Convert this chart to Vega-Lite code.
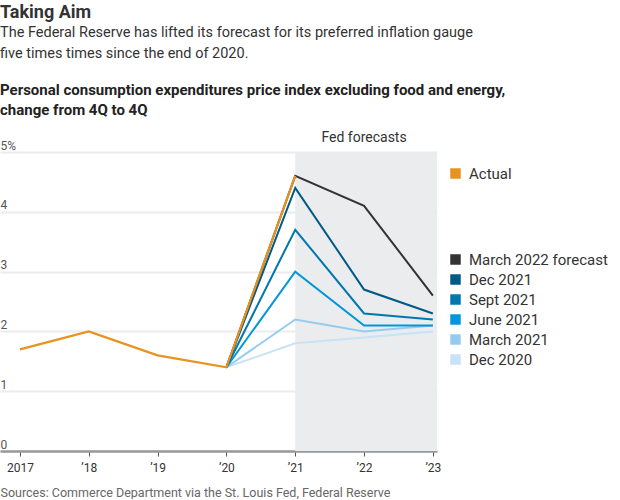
{
  "$schema": "https://vega.github.io/schema/vega-lite/v6.json",
  "padding": {"left": 0, "top": 3, "right": 0, "bottom": 0},
  "background": "white",
  "title": {
    "text": "Taking Aim",
    "subtitle": ["The Federal Reserve has lifted its forecast for its preferred inflation gauge", "five times times since the end of 2020."],
    "anchor": "start",
    "font": "Roboto",
    "fontSize": 18,
    "fontWeight": "bold",
    "color": "#333333",
    "subtitleFont": "Roboto",
    "subtitleFontSize": 14.5,
    "subtitleColor": "#333333",
    "subtitleLineHeight": 21,
    "subtitlePadding": 4,
    "offset": 23
  },
  "datasets": {
    "series": [
      {"series": "Actual", "year": 2017, "value": 1.7},
      {"series": "Actual", "year": 2018, "value": 2.0},
      {"series": "Actual", "year": 2019, "value": 1.6},
      {"series": "Actual", "year": 2020, "value": 1.4},
      {"series": "Actual", "year": 2021, "value": 4.6},
      {"series": "Dec 2020", "year": 2020, "value": 1.4},
      {"series": "Dec 2020", "year": 2021, "value": 1.8},
      {"series": "Dec 2020", "year": 2022, "value": 1.9},
      {"series": "Dec 2020", "year": 2023, "value": 2.0},
      {"series": "March 2021", "year": 2020, "value": 1.4},
      {"series": "March 2021", "year": 2021, "value": 2.2},
      {"series": "March 2021", "year": 2022, "value": 2.0},
      {"series": "March 2021", "year": 2023, "value": 2.1},
      {"series": "June 2021", "year": 2020, "value": 1.4},
      {"series": "June 2021", "year": 2021, "value": 3.0},
      {"series": "June 2021", "year": 2022, "value": 2.1},
      {"series": "June 2021", "year": 2023, "value": 2.1},
      {"series": "Sept 2021", "year": 2020, "value": 1.4},
      {"series": "Sept 2021", "year": 2021, "value": 3.7},
      {"series": "Sept 2021", "year": 2022, "value": 2.3},
      {"series": "Sept 2021", "year": 2023, "value": 2.2},
      {"series": "Dec 2021", "year": 2020, "value": 1.4},
      {"series": "Dec 2021", "year": 2021, "value": 4.4},
      {"series": "Dec 2021", "year": 2022, "value": 2.7},
      {"series": "Dec 2021", "year": 2023, "value": 2.3},
      {"series": "March 2022 forecast", "year": 2020, "value": 1.4},
      {"series": "March 2022 forecast", "year": 2021, "value": 4.6},
      {"series": "March 2022 forecast", "year": 2022, "value": 4.1},
      {"series": "March 2022 forecast", "year": 2023, "value": 2.6}
    ],
    "shade": [{"start": 2021, "end": 2023.06, "low": 0, "high": 5, "mid": 2022, "label": "Fed forecasts"}]
  },
  "vconcat": [
    {
      "title": {
        "text": ["Personal consumption expenditures price index excluding food and energy,", "change from 4Q to 4Q"],
        "anchor": "start",
        "font": "Roboto",
        "fontSize": 15,
        "fontWeight": "bold",
        "color": "#222222",
        "lineHeight": 20,
        "offset": 13
      },
      "width": 437,
      "height": 299,
      "layer": [
        {
          "data": {"name": "shade"},
          "mark": {"type": "rect", "color": "#ebecee"},
          "encoding": {
            "x": {"field": "start", "type": "quantitative", "scale": {"domain": [2016.71, 2023.06], "nice": false, "zero": false},
              "axis": {
                "values": [2017, 2018, 2019, 2020, 2021, 2022, 2023],
                "labelExpr": "datum.value == 2017 ? '2017' : '’' + substring(toString(datum.value), 2, 4)",
                "grid": false,
                "domainColor": "#999999",
                "domainWidth": 2.5,
                "tickColor": "#555555",
                "tickSize": 5,
                "tickWidth": 1,
                "labelFont": "Roboto",
                "labelFontSize": 12,
                "labelColor": "#333333",
                "labelPadding": 6,
                "title": "Sources: Commerce Department via the St. Louis Fed, Federal Reserve",
                "titleAnchor": "start",
                "titleAlign": "left",
                "titleFont": "Roboto",
                "titleFontSize": 12.5,
                "titleFontWeight": "normal",
                "titleColor": "#666666",
                "titlePadding": 13
              }
            },
            "x2": {"field": "end"},
            "y": {"field": "low", "type": "quantitative", "scale": {"domain": [0, 5], "nice": false},
              "axis": {
                "values": [0, 1, 2, 3, 4, 5],
                "labelExpr": "datum.value == 5 ? '5%' : format(datum.value, 'd')",
                "domain": false,
                "ticks": false,
                "tickSize": 0,
                "labelPadding": 0,
                "labelAlign": "left",
                "labelBaseline": "bottom",
                "labelDy": -1,
                "labelFont": "Roboto",
                "labelFontSize": 12,
                "labelColor": "#555555",
                "gridColor": "#ececec",
                "gridWidth": 2,
                "title": null
              }
            },
            "y2": {"field": "high"}
          }
        },
        {
          "data": {"name": "shade"},
          "mark": {"type": "text", "font": "Roboto", "fontSize": 14, "color": "#333333", "dy": -7, "baseline": "bottom"},
          "encoding": {
            "x": {"field": "mid", "type": "quantitative"},
            "y": {"field": "high", "type": "quantitative"},
            "text": {"field": "label"}
          }
        },
        {
          "data": {"name": "series"},
          "transform": [{"filter": "datum.series != 'Actual'"}],
          "mark": {"type": "line", "strokeWidth": 2},
          "encoding": {
            "x": {"field": "year", "type": "quantitative"},
            "y": {"field": "value", "type": "quantitative"},
            "color": {
              "field": "series", "type": "nominal",
              "scale": {
                "domain": ["March 2022 forecast", "Dec 2021", "Sept 2021", "June 2021", "March 2021", "Dec 2020"],
                "range": ["#333333", "#005a87", "#0077ae", "#0096db", "#93ccf0", "#c8e2f6"]
              },
              "legend": {
                "title": null,
                "orient": "none",
                "legendX": 448,
                "legendY": 100,
                "symbolType": "square",
                "symbolSize": 110,
                "rowPadding": 4,
                "labelFont": "Roboto",
                "labelFontSize": 15,
                "labelColor": "#333333",
                "labelOffset": 6,
                "encode": {"symbols": {"update": {"fill": {"scale": "color", "field": "value"}, "strokeWidth": {"value": 0}, "opacity": {"value": 1}}}}
              }
            },
            "order": {"field": "year"}
          }
        },
        {
          "data": {"name": "series"},
          "transform": [{"filter": "datum.series == 'Actual'"}],
          "mark": {"type": "line", "strokeWidth": 2.2},
          "encoding": {
            "x": {"field": "year", "type": "quantitative"},
            "y": {"field": "value", "type": "quantitative"},
            "stroke": {
              "field": "series", "type": "nominal",
              "scale": {"domain": ["Actual"], "range": ["#e8921f"]},
              "legend": {
                "title": null,
                "orient": "none",
                "legendX": 448,
                "legendY": 14,
                "symbolType": "square",
                "symbolSize": 110,
                "labelFont": "Roboto",
                "labelFontSize": 15,
                "labelColor": "#333333",
                "labelOffset": 6,
                "encode": {"symbols": {"update": {"fill": {"value": "#e8921f"}, "strokeWidth": {"value": 0}, "opacity": {"value": 1}}}}
              }
            }
          }
        }
      ]
    }
  ],
  "config": {
    "view": {"stroke": null},
    "font": "Roboto"
  }
}
